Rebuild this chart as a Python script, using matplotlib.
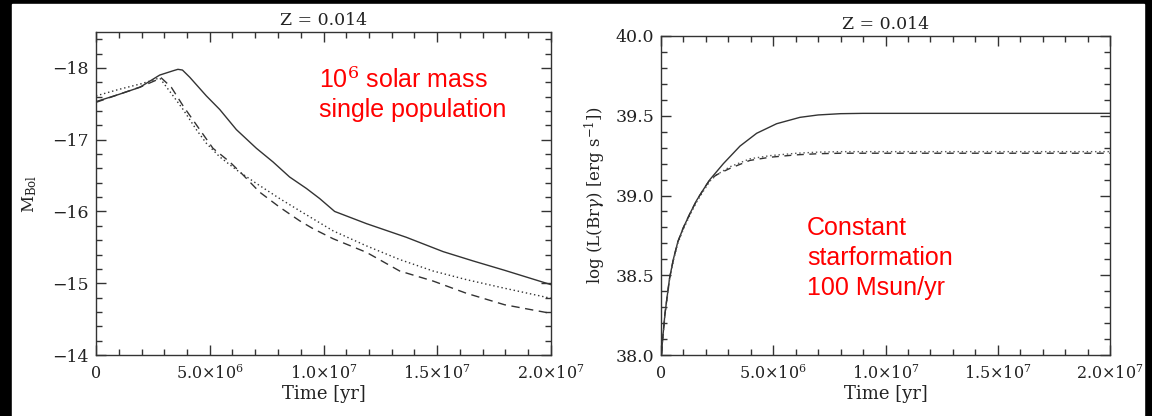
import numpy as np
import matplotlib
matplotlib.use("Agg")
import matplotlib.pyplot as plt
from matplotlib.patches import Rectangle
from matplotlib.ticker import MultipleLocator

plt.rcParams['font.family'] = 'DejaVu Serif'
plt.rcParams['mathtext.fontset'] = 'dejavuserif'

# ---- left panel: single population (10^6 Msun), time in units of 1e6 yr
t_solid = [0.0, 1.0, 1.93, 2.8, 3.39, 3.6, 3.8, 4.12, 4.85, 5.44, 6.17, 7.05, 7.78, 8.51,
           9.25, 9.83, 10.49, 11.89, 13.64, 15.26, 16.58, 17.96, 20.0]
m_solid = [-17.53, -17.63, -17.73, -17.90, -17.96, -17.98, -17.97, -17.87, -17.61, -17.42,
           -17.14, -16.88, -16.69, -16.48, -16.32, -16.18, -16.0, -15.83, -15.64, -15.44,
           -15.31, -15.18, -14.98]

t_dot = [0.0, 1.0, 2.0, 2.8, 3.39, 3.83, 4.41, 4.85, 5.44, 6.17, 7.05, 8.07, 8.95,
         10.42, 11.89, 13.35, 14.82, 16.28, 17.96, 20.0]
m_dot = [-17.61, -17.70, -17.78, -17.86, -17.61, -17.42, -17.14, -16.95, -16.76, -16.58,
         -16.39, -16.18, -16.01, -15.73, -15.52, -15.33, -15.17, -15.05, -14.93, -14.79]

t_dash = [0.0, 1.0, 2.0, 2.87, 3.31, 3.83, 4.56, 5.14, 5.88, 6.46, 7.19, 8.07, 8.95,
          9.54, 10.42, 11.89, 13.35, 14.82, 16.28, 17.96, 20.0]
m_dash = [-17.52, -17.63, -17.74, -17.86, -17.73, -17.47, -17.14, -16.88, -16.69, -16.51,
          -16.27, -16.06, -15.87, -15.76, -15.62, -15.43, -15.17, -15.03, -14.86, -14.70,
          -14.58]

# ---- right panel: constant star formation, log L(Br gamma)
t_br = [0.03, 0.06, 0.10, 0.17, 0.25, 0.38, 0.55, 0.75, 1.0, 1.3, 1.59, 1.9, 2.18, 2.78,
        3.52, 4.26, 5.15, 6.19, 7.0, 8.0, 9.0, 12.0, 16.0, 20.0]
l_br_solid = [38.01, 38.08, 38.14, 38.25, 38.34, 38.48, 38.60, 38.71, 38.80, 38.89,
              38.97, 39.04, 39.10, 39.20, 39.31, 39.39, 39.45, 39.49, 39.505, 39.513,
              39.515, 39.515, 39.515, 39.515]
t_br2 = [0.03, 0.06, 0.10, 0.17, 0.25, 0.38, 0.55, 0.75, 1.0, 1.3, 1.59, 1.9, 2.18, 2.48,
         3.07, 3.96, 4.86, 6.04, 7.0, 8.0, 9.0, 12.0, 16.0, 20.0]
l_br_dash = [38.01, 38.08, 38.14, 38.25, 38.34, 38.48, 38.60, 38.71, 38.80, 38.89,
             38.97, 39.04, 39.10, 39.13, 39.17, 39.22, 39.24, 39.255, 39.262, 39.265,
             39.265, 39.265, 39.265, 39.265]
l_br_dot = [38.0, 38.07, 38.13, 38.24, 38.33, 38.47, 38.59, 38.70, 38.79, 38.88,
            38.96, 39.03, 39.09, 39.13, 39.18, 39.23, 39.25, 39.265, 39.272, 39.275,
            39.275, 39.275, 39.275, 39.275]

x_ticks = [0, 5e6, 1e7, 1.5e7, 2e7]
x_ticklabels = ['0', r'5.0$\times$10$^6$', r'1.0$\times$10$^7$',
                r'1.5$\times$10$^7$', r'2.0$\times$10$^7$']

line_col = '#333333'

fig = plt.figure(figsize=(11.52, 4.16), dpi=100, facecolor='black')
fig.patches.append(Rectangle((12 / 1152, 0), 1132 / 1152, 412 / 416,
                             transform=fig.transFigure, color='white', zorder=-5))

ax1 = fig.add_axes([96 / 1152, 61 / 416, 455 / 1152, 323 / 416])
ax2 = fig.add_axes([661 / 1152, 61 / 416, 449 / 1152, 319 / 416])


def style_axes(ax):
    ax.set_facecolor('none')
    ax.set_xlim(0, 2e7)
    ax.set_xticks(x_ticks)
    ax.set_xticklabels(x_ticklabels)
    ax.xaxis.set_minor_locator(MultipleLocator(1e6))
    ax.tick_params(which='both', direction='in', top=True, right=True,
                   labelsize=11.5, width=1.0, color='#333333', labelcolor='#222222')
    ax.tick_params(which='major', length=7, pad=5)
    ax.tick_params(which='minor', length=4)
    ax.tick_params(axis='x', which='major', pad=7)
    for s in ax.spines.values():
        s.set_color('#333333')
        s.set_linewidth(1.0)
    ax.set_xlabel('Time [yr]', fontsize=13, labelpad=1, color='#222222')
    ax.set_title('Z = 0.014', fontsize=12.5, pad=5, color='#222222')


ax1.plot(np.array(t_solid) * 1e6, m_solid, color=line_col, lw=1.0, ls='-')
ax1.plot(np.array(t_dot) * 1e6, m_dot, color=line_col, lw=1.0, ls=(0, (1, 2)))
ax1.plot(np.array(t_dash) * 1e6, m_dash, color=line_col, lw=1.0, ls=(0, (6, 4)))
style_axes(ax1)
ax1.set_ylim(-14, -18.5)
ax1.set_yticks([-14, -15, -16, -17, -18])
ax1.set_yticklabels(['\u221214', '\u221215', '\u221216', '\u221217', '\u221218'],
                    fontsize=12.5)
ax1.yaxis.set_minor_locator(MultipleLocator(0.2))
ax1.set_ylabel(r'M$_{\rm Bol}$', fontsize=12, labelpad=10, color='#222222')
ax1.text(0.49, 0.89, '10$^{6}$ solar mass\nsingle population', transform=ax1.transAxes,
         color='red', fontsize=18, family='Liberation Sans', va='top', ha='left',
         linespacing=1.25)

ax2.plot(np.array(t_br) * 1e6, l_br_solid, color=line_col, lw=1.0, ls='-')
ax2.plot(np.array(t_br2) * 1e6, l_br_dot, color='#555555', lw=1.0, ls=(0, (1, 2)))
ax2.plot(np.array(t_br2) * 1e6, l_br_dash, color=line_col, lw=1.0, ls=(0, (5, 4)))
style_axes(ax2)
ax2.set_ylim(38.0, 40.0)
ax2.set_yticks([38.0, 38.5, 39.0, 39.5, 40.0])
ax2.set_yticklabels(['38.0', '38.5', '39.0', '39.5', '40.0'], fontsize=12.5)
ax2.yaxis.set_minor_locator(MultipleLocator(0.1))
ax2.set_ylabel(r'log (L(Br$\gamma$) [erg s$^{-1}$])', fontsize=12, labelpad=5,
               color='#222222')
ax2.text(0.325, 0.435, 'Constant\nstarformation\n100 Msun/yr', transform=ax2.transAxes,
         color='red', fontsize=18, family='Liberation Sans', va='top', ha='left',
         linespacing=1.3)

fig.savefig('out.png', dpi=100, facecolor='black')
